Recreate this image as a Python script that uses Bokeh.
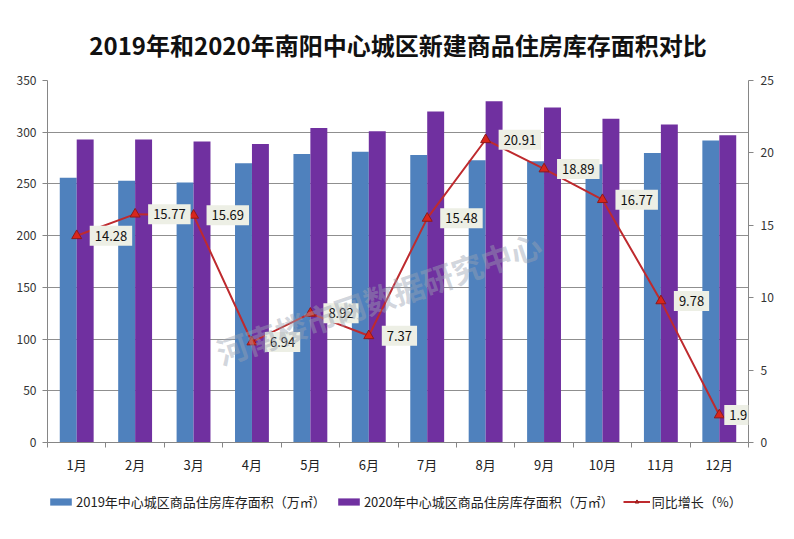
from bokeh.plotting import figure
from bokeh.layouts import column
from bokeh.models import (Range1d, LinearAxis, FixedTicker, Label, Legend,
                          LegendItem, ColumnDataSource)
from bokeh.embed import file_html
from bokeh.resources import INLINE

# ---- data ----
months = ["1月", "2月", "3月", "4月", "5月", "6月",
          "7月", "8月", "9月", "10月", "11月", "12月"]
area_2019 = [256, 253, 251.5, 270, 279, 281, 278, 273, 272, 269, 280, 292]
area_2020 = [293, 293, 291, 288.5, 304, 301, 320, 330, 324, 313, 307.5, 297]
growth = [14.28, 15.77, 15.69, 6.94, 8.92, 7.37, 15.48, 20.91, 18.89, 16.77, 9.78, 1.9]
left_ticks = [0, 50, 100, 150, 200, 250, 300, 350]
right_ticks = [0, 5, 10, 15, 20, 25]

title_text = "2019年和2020年南阳中心城区新建商品住房库存面积对比"
name_2019 = "2019年中心城区商品住房库存面积（万㎡）"
name_2020 = "2020年中心城区商品住房库存面积（万㎡）"
name_growth = "同比增长（%）"
watermark = "河南楼市网数据研究中心"

FONT = "Noto Sans CJK SC"
C19, C20, CLINE, CMARK, CMARK_EDGE = "#4F81BD", "#7030A0", "#BE2A2E", "#D9261C", "#8E1A1A"
n = len(months)
bar_w = 0.29
centers = [i + 0.5 for i in range(n)]

src = ColumnDataSource(dict(
    x=centers,
    x19=[c - bar_w / 2 for c in centers],
    x20=[c + bar_w / 2 for c in centers],
    a19=area_2019,
    a20=area_2020,
    g=growth,
))

W = 778
p = figure(width=W, height=482, x_range=Range1d(0, n), y_range=Range1d(0, 350),
           output_backend="svg", toolbar_location=None,
           min_border_left=47, min_border_right=30, min_border_top=80, min_border_bottom=40,
           background_fill_color="white", border_fill_color="white",
           outline_line_color=None)
p.extra_y_ranges = {"pct": Range1d(0, 25)}

# title
p.title.text = title_text
p.title.text_font = FONT
p.title.text_font_size = "24px"
p.title.text_font_style = "bold"
p.title.text_color = "#111111"
p.title.align = "center"
p.title.standoff = 38
p.title.offset = 4

# grid
p.xgrid.visible = False
p.ygrid.ticker = FixedTicker(ticks=left_ticks)
p.ygrid.grid_line_color = "#8f8f8f"
p.ygrid.grid_line_width = 1

# left axis
ya = p.yaxis[0]
ya.ticker = FixedTicker(ticks=left_ticks)
ya.axis_line_color = "#868686"
ya.major_tick_line_color = "#868686"
ya.major_tick_out = 5
ya.major_tick_in = 0
ya.minor_tick_line_color = None
ya.major_label_standoff = 6
ya.major_label_text_font = FONT
ya.major_label_text_font_size = "12px"
ya.major_label_text_color = "#333333"

# right axis
ra = LinearAxis(y_range_name="pct", ticker=FixedTicker(ticks=right_ticks))
ra.axis_line_color = "#868686"
ra.major_tick_line_color = "#868686"
ra.major_tick_out = 5
ra.major_tick_in = 0
ra.minor_tick_line_color = None
ra.major_label_standoff = 7
ra.major_label_text_font = FONT
ra.major_label_text_font_size = "12px"
ra.major_label_text_color = "#333333"
p.add_layout(ra, "right")

# bottom axis
xa = p.xaxis[0]
xa.ticker = FixedTicker(ticks=centers, minor_ticks=list(range(n + 1)))
xa.major_label_overrides = {c: m for c, m in zip(centers, months)}
xa.axis_line_color = "#868686"
xa.major_tick_line_color = None
xa.major_tick_out = 5
xa.minor_tick_line_color = "#868686"
xa.minor_tick_out = 5
xa.minor_tick_in = 0
xa.major_label_standoff = 7
xa.major_label_text_font = FONT
xa.major_label_text_font_size = "13px"
xa.major_label_text_color = "#222222"

# bars
p.vbar(x="x19", top="a19", width=bar_w, bottom=0, source=src,
       fill_color=C19, line_color=None)
p.vbar(x="x20", top="a20", width=bar_w, bottom=0, source=src,
       fill_color=C20, line_color=None)

# growth line
p.line(x="x", y="g", source=src, y_range_name="pct",
       line_color=CLINE, line_width=2)
p.scatter(x="x", y="g", source=src, y_range_name="pct", marker="triangle",
          size=10, fill_color=CMARK, line_color=CMARK_EDGE, line_width=1)

# data labels (the last one sits closer so it stays inside the plot area)
for c, g in zip(centers, growth):
    xo = 5 if c == centers[-1] else 13
    p.add_layout(Label(x=c, y=g, y_range_name="pct", text=str(g),
                       x_offset=xo, text_align="left", text_baseline="middle",
                       text_font=FONT, text_font_size="13px", text_color="#111111",
                       background_fill_color="#EDEFE5", padding=5))

# watermark
p.add_layout(Label(x=5.67, y=140, text=watermark, angle=0.33,
                   text_align="center", text_baseline="middle",
                   text_font=FONT, text_font_size="31px", text_font_style="bold",
                   text_color="#9aa3b2", text_alpha=0.45))

# ---- legend strip (separate figure below the chart; its view shows no data) ----
q = figure(width=W, height=41, x_range=Range1d(1000, 1001), y_range=Range1d(1000, 1100),
           output_backend="svg", toolbar_location=None,
           x_axis_location=None, y_axis_location=None,
           min_border_left=0, min_border_right=0, min_border_top=0, min_border_bottom=0,
           background_fill_color="white", border_fill_color="white",
           outline_line_color=None)
q.grid.visible = False
k19 = q.vbar(x="x19", top="a19", width=bar_w, bottom=0, source=src,
             fill_color=C19, line_color=None)
k20 = q.vbar(x="x20", top="a20", width=bar_w, bottom=0, source=src,
             fill_color=C20, line_color=None)
kl = q.line(x="x", y="g", source=src, line_color=CLINE, line_width=2)
km = q.scatter(x="x", y="g", source=src, marker="triangle", size=10,
               fill_color=CMARK, line_color=CMARK_EDGE)

legend = Legend(items=[
    LegendItem(label=name_2019, renderers=[k19]),
    LegendItem(label=name_2020, renderers=[k20]),
    LegendItem(label=name_growth, renderers=[kl, km]),
], orientation="horizontal", location=(0, 12))
legend.border_line_color = None
legend.background_fill_alpha = 0
legend.padding = 0
legend.margin = 0
legend.spacing = 9
legend.label_standoff = 2
legend.glyph_width = 27
legend.glyph_height = 9
legend.label_height = 14
legend.label_text_font = FONT
legend.label_text_font_size = "13px"
legend.label_text_color = "#222222"
q.add_layout(legend)

layout = column(p, q, spacing=0)
open("out.html", "w").write(file_html(layout, INLINE))
